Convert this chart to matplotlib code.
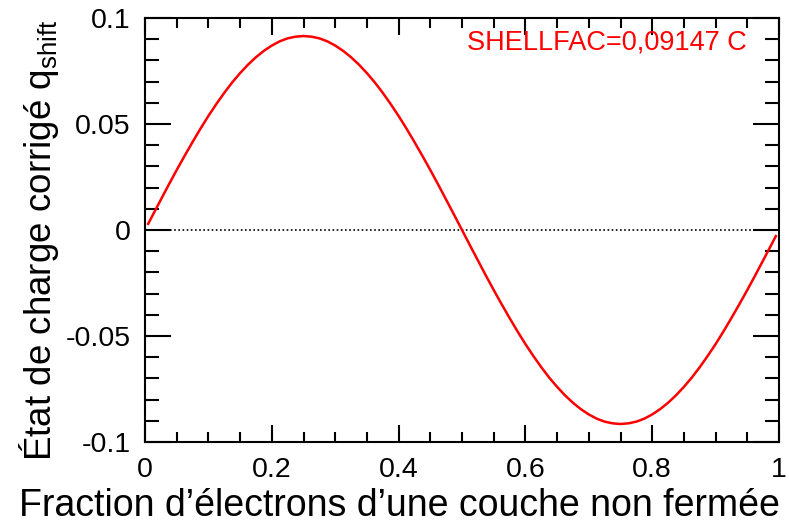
import matplotlib
matplotlib.use("Agg")
import matplotlib.pyplot as plt
from matplotlib.ticker import MultipleLocator

plt.rcParams['font.family'] = ['Liberation Sans', 'DejaVu Sans']

# fraction of electrons (x) and corrected charge shift (y)
fraction = [0.005, 0.0125, 0.025, 0.0375, 0.05, 0.0625, 0.075, 0.0875, 0.1, 0.1125,
            0.125, 0.1375, 0.15, 0.1625, 0.175, 0.1875, 0.2, 0.2125, 0.225, 0.2375,
            0.25, 0.2625, 0.275, 0.2875, 0.3, 0.3125, 0.325, 0.3375, 0.35, 0.3625,
            0.375, 0.3875, 0.4, 0.4125, 0.425, 0.4375, 0.45, 0.4625, 0.475, 0.4875,
            0.5, 0.5125, 0.525, 0.5375, 0.55, 0.5625, 0.575, 0.5875, 0.6, 0.6125,
            0.625, 0.6375, 0.65, 0.6625, 0.675, 0.6875, 0.7, 0.7125, 0.725, 0.7375,
            0.75, 0.7625, 0.775, 0.7875, 0.8, 0.8125, 0.825, 0.8375, 0.85, 0.8625,
            0.875, 0.8875, 0.9, 0.9125, 0.925, 0.9375, 0.95, 0.9625, 0.975, 0.9875, 0.995]
qshift = [0.0029, 0.0072, 0.0143, 0.0214, 0.0283, 0.0350, 0.0415, 0.0478, 0.0538, 0.0594,
          0.0647, 0.0696, 0.0740, 0.0780, 0.0815, 0.0845, 0.0870, 0.0890, 0.0904, 0.0912,
          0.0915, 0.0912, 0.0904, 0.0890, 0.0870, 0.0845, 0.0815, 0.0780, 0.0740, 0.0696,
          0.0647, 0.0594, 0.0538, 0.0478, 0.0415, 0.0350, 0.0283, 0.0214, 0.0143, 0.0072,
          0.0000, -0.0072, -0.0143, -0.0214, -0.0283, -0.0350, -0.0415, -0.0478, -0.0538, -0.0594,
          -0.0647, -0.0696, -0.0740, -0.0780, -0.0815, -0.0845, -0.0870, -0.0890, -0.0904, -0.0912,
          -0.0915, -0.0912, -0.0904, -0.0890, -0.0870, -0.0845, -0.0815, -0.0780, -0.0740, -0.0696,
          -0.0647, -0.0594, -0.0538, -0.0478, -0.0415, -0.0350, -0.0283, -0.0214, -0.0143, -0.0072, -0.0029]

xticks = [0, 0.2, 0.4, 0.6, 0.8, 1]
xticklabels = ['0', '0.2', '0.4', '0.6', '0.8', '1']
yticks = [-0.1, -0.05, 0, 0.05, 0.1]
yticklabels = ['-0.1', '-0.05', '0', '0.05', '0.1']

fig = plt.figure(figsize=(7.89, 5.27), dpi=100)
ax = fig.add_axes([145/789, 1-442/527, (779-145)/789, (442-18)/527])

ax.plot([0, 1], [0, 0], color='black', linestyle=(0, (1, 1.5)), linewidth=1.2)
ax.plot(fraction, qshift, color='#ff0000', linewidth=1.8)

ax.set_xlim(0, 1)
ax.set_ylim(-0.1, 0.1)
ax.set_xticks(xticks)
ax.set_xticklabels(xticklabels)
ax.set_yticks(yticks)
ax.set_yticklabels(yticklabels)
ax.xaxis.set_minor_locator(MultipleLocator(0.05))
ax.yaxis.set_minor_locator(MultipleLocator(0.01))

ax.tick_params(which='both', direction='in', top=True, right=True, width=1.5)
ax.tick_params(axis='x', which='major', length=12, labelsize=20.5, pad=10.5)
ax.tick_params(axis='x', which='minor', length=7)
ax.tick_params(axis='y', which='major', length=19, labelsize=20.5, pad=10.5)
ax.tick_params(axis='y', which='minor', length=10)
for s in ax.spines.values():
    s.set_linewidth(1.5)

ax.set_xlabel("Fraction d\u2019\u00e9lectrons d\u2019une couche non ferm\u00e9e", fontsize=27, labelpad=4)
ax.xaxis.label.set_x(0.402)
ax.set_ylabel("\u00c9tat de charge corrig\u00e9 q$_{\\mathregular{shift}}$", fontsize=26.5, labelpad=3)
ax.yaxis.label.set_y(0.475)

ax.text(0.728, 0.943, "SHELLFAC=0,09147 C", transform=ax.transAxes, color='#ff0000',
        fontsize=19.5, ha='center', va='center')

fig.savefig('out.png', dpi=100)
